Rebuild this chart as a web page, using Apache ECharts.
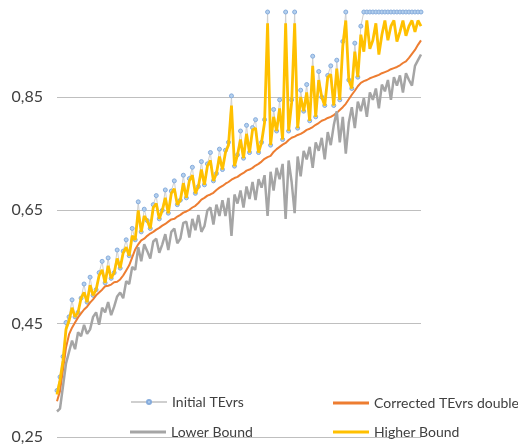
<!DOCTYPE html>
<html><head><meta charset="utf-8">
<script src="https://cdn.jsdelivr.net/npm/echarts@6/dist/echarts.min.js"></script>
<style>html,body{margin:0;padding:0;background:#fff}#c{width:518px;height:446px}</style>
</head><body><div id="c"></div>
<script>
var yTicks = [0.25, 0.45, 0.65, 0.85];
var initialTEvrs = [0.332,0.356,0.392,0.452,0.462,0.492,0.462,0.470,0.495,0.520,0.488,0.532,0.500,0.510,0.540,0.560,0.522,0.566,0.530,0.540,0.580,0.548,0.578,0.598,0.570,0.618,0.598,0.665,0.612,0.652,0.632,0.618,0.660,0.676,0.635,0.650,0.686,0.645,0.684,0.702,0.660,0.668,0.712,0.672,0.706,0.726,0.680,0.692,0.736,0.695,0.732,0.752,0.702,0.715,0.758,0.722,0.756,0.770,0.852,0.728,0.748,0.790,0.742,0.800,0.752,0.796,0.810,0.752,0.770,0.810,1.000,0.765,0.828,0.790,0.845,0.775,1.000,0.790,0.845,1.000,0.795,0.862,0.825,0.872,0.808,0.922,0.815,0.895,0.850,0.835,0.888,0.905,0.835,0.915,0.845,0.948,1.000,0.880,0.865,0.945,0.885,0.975,1.000,1.000,1.000,1.000,1.000,1.000,1.000,1.000,1.000,1.000,1.000,1.000,1.000,1.000,1.000,1.000,1.000,1.000,1.000,1.000];
var correctedTEvrs = [0.313,0.331,0.369,0.408,0.431,0.443,0.452,0.461,0.468,0.475,0.480,0.487,0.493,0.500,0.505,0.510,0.516,0.517,0.519,0.523,0.524,0.528,0.535,0.544,0.553,0.567,0.581,0.590,0.597,0.600,0.605,0.609,0.612,0.616,0.619,0.623,0.626,0.630,0.634,0.635,0.639,0.642,0.646,0.648,0.651,0.655,0.658,0.663,0.669,0.672,0.676,0.678,0.681,0.686,0.690,0.693,0.697,0.700,0.704,0.707,0.709,0.713,0.716,0.720,0.722,0.725,0.729,0.732,0.736,0.741,0.744,0.746,0.753,0.758,0.762,0.766,0.769,0.774,0.778,0.780,0.783,0.785,0.788,0.792,0.794,0.797,0.801,0.804,0.808,0.810,0.813,0.815,0.818,0.822,0.827,0.832,0.838,0.846,0.854,0.861,0.869,0.875,0.878,0.880,0.883,0.885,0.887,0.889,0.892,0.894,0.896,0.899,0.901,0.903,0.906,0.910,0.913,0.919,0.926,0.933,0.942,0.950];
var lowerBound = [0.295,0.300,0.340,0.380,0.400,0.420,0.405,0.435,0.428,0.448,0.432,0.440,0.462,0.470,0.448,0.478,0.470,0.488,0.465,0.480,0.498,0.505,0.495,0.525,0.520,0.550,0.545,0.585,0.560,0.590,0.578,0.565,0.595,0.600,0.575,0.590,0.608,0.580,0.612,0.618,0.592,0.600,0.628,0.630,0.602,0.635,0.615,0.642,0.612,0.622,0.650,0.655,0.625,0.660,0.640,0.668,0.640,0.672,0.605,0.678,0.662,0.685,0.655,0.692,0.670,0.700,0.668,0.705,0.690,0.712,0.640,0.718,0.685,0.725,0.705,0.732,0.635,0.738,0.700,0.645,0.745,0.710,0.755,0.740,0.762,0.725,0.770,0.755,0.778,0.740,0.788,0.765,0.800,0.825,0.770,0.815,0.750,0.805,0.832,0.795,0.842,0.825,0.848,0.815,0.858,0.845,0.865,0.830,0.872,0.860,0.880,0.845,0.885,0.870,0.888,0.858,0.892,0.880,0.870,0.905,0.915,0.925];
var higherBound = [0.325,0.350,0.385,0.440,0.455,0.478,0.462,0.470,0.495,0.505,0.488,0.518,0.500,0.510,0.535,0.545,0.522,0.552,0.530,0.540,0.565,0.548,0.575,0.585,0.570,0.605,0.598,0.650,0.612,0.640,0.632,0.618,0.655,0.662,0.635,0.650,0.672,0.645,0.680,0.688,0.660,0.668,0.698,0.672,0.702,0.712,0.680,0.692,0.722,0.695,0.728,0.738,0.702,0.715,0.745,0.722,0.752,0.765,0.835,0.728,0.748,0.775,0.742,0.785,0.752,0.792,0.795,0.752,0.770,0.805,0.980,0.765,0.815,0.790,0.830,0.775,0.980,0.790,0.840,0.980,0.795,0.850,0.825,0.858,0.808,0.905,0.815,0.880,0.850,0.835,0.885,0.890,0.835,0.900,0.845,0.940,0.985,0.880,0.865,0.930,0.885,0.960,0.930,0.985,0.935,0.950,0.980,0.925,0.960,0.985,0.950,0.975,0.985,0.948,0.965,0.985,0.958,0.975,0.985,0.965,0.985,0.975];
var categories = initialTEvrs.map(function(_, i){ return String(i + 1); });

var chart = echarts.init(document.getElementById('c'), null, {renderer: 'canvas'});
var font = 'Lato';
function legendAt(item, left, top, h) {
  return {
    data: [item], left: left, top: top, padding: 0,
    itemWidth: 36, itemHeight: h, itemGap: 0,
    textStyle: {fontFamily: font, fontSize: 14, color: '#404040'}
  };
}
chart.setOption({
  animation: false,
  backgroundColor: '#ffffff',
  textStyle: {fontFamily: font},
  grid: {left: 57, right: 97, top: 12, bottom: 9, containLabel: false},
  legend: [
    legendAt({name: 'Initial TEvrs'}, 130, 395, 5),
    legendAt({name: 'Corrected TEvrs double', icon: 'rect'}, 333, 396, 3),
    legendAt({name: 'Lower Bound', icon: 'rect'}, 130, 425, 3),
    legendAt({name: 'Higher Bound', icon: 'rect'}, 333, 425, 3)
  ],
  xAxis: {
    type: 'category', data: categories, boundaryGap: false,
    axisLine: {show: false}, axisTick: {show: false}, axisLabel: {show: false}, splitLine: {show: false}
  },
  yAxis: {
    type: 'value', min: 0.25, max: 1.0, interval: 0.2,
    axisLine: {show: false}, axisTick: {show: false},
    axisLabel: {fontFamily: font, fontSize: 16, color: '#404040', margin: 14, showMaxLabel: false,
      formatter: function(v){ return yTicks.indexOf(Math.round(v * 100) / 100) >= 0 ? v.toFixed(2).replace('.', ',') : ''; }},
    splitLine: {showMaxLine: false, lineStyle: {color: '#bfbfbf', width: 1}}
  },
  series: [
    {name: 'Initial TEvrs', type: 'line', z: 2, data: initialTEvrs, symbol: 'circle', symbolSize: 4, showSymbol: true, showAllSymbol: true, clip: false,
      lineStyle: {color: '#cfcfcf', width: 1}, itemStyle: {color: '#b4d0ee', borderColor: '#86acdc', borderWidth: 1}},
    {name: 'Corrected TEvrs double', type: 'line', z: 3, data: correctedTEvrs, symbol: 'none',
      lineStyle: {color: '#ed7d31', width: 2}, itemStyle: {color: '#ed7d31'}},
    {name: 'Lower Bound', type: 'line', z: 3, data: lowerBound, symbol: 'none',
      lineStyle: {color: '#a5a5a5', width: 2.5}, itemStyle: {color: '#a5a5a5'}},
    {name: 'Higher Bound', type: 'line', z: 4, data: higherBound, symbol: 'none',
      lineStyle: {color: '#ffc000', width: 2.8}, itemStyle: {color: '#ffc000'}}
  ]
});
</script>
</body></html>
